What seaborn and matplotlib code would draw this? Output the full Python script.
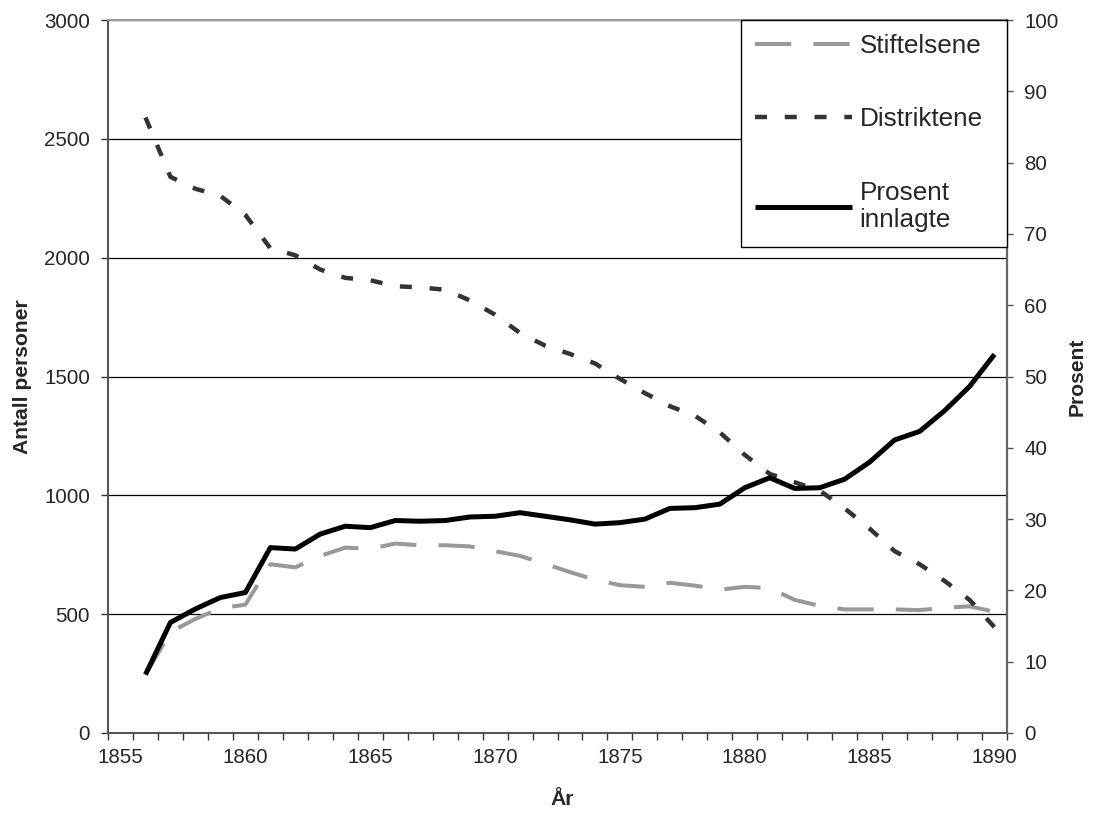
import matplotlib
matplotlib.use("Agg")
import matplotlib.pyplot as plt
import seaborn as sns
import numpy as np

# values, one per year 1856-1890
years = list(range(1856, 1891))
stiftelsene = [245, 425, 480, 525, 540, 710, 697, 745, 780, 775,
               797, 790, 790, 785, 765, 745, 712, 677, 645, 622,
               615, 632, 620, 603, 615, 610, 560, 535, 520, 520,
               520, 517, 527, 533, 510]
distriktene = [2590, 2340, 2290, 2260, 2180, 2040, 2010, 1950, 1915, 1905,
               1880, 1875, 1865, 1820, 1760, 1683, 1630, 1595, 1555, 1490,
               1430, 1375, 1335, 1265, 1170, 1090, 1055, 1020, 945, 860,
               765, 710, 640, 560, 445]
prosent = [8.2, 15.5, 17.4, 19.0, 19.7, 26.0, 25.8, 27.9, 29.0, 28.8,
           29.8, 29.7, 29.8, 30.3, 30.4, 30.9, 30.4, 29.9, 29.3, 29.5,
           30.0, 31.5, 31.6, 32.1, 34.4, 35.8, 34.3, 34.4, 35.6, 38.0,
           41.1, 42.3, 45.2, 48.6, 53.1]

left_ticks = [0, 500, 1000, 1500, 2000, 2500, 3000]
right_ticks = [0, 10, 20, 30, 40, 50, 60, 70, 80, 90, 100]
year_labels = [1855, 1860, 1865, 1870, 1875, 1880, 1885, 1890]

sns.set_style("white")
plt.rcParams["font.family"] = ["Liberation Sans", "DejaVu Sans"]

fig = plt.figure(figsize=(10.93, 8.14), dpi=100)
ax = fig.add_axes([108 / 1093, 1 - 733 / 814, 899 / 1093, 713 / 814])
ax2 = ax.twinx()

sns.lineplot(x=years, y=stiftelsene, ax=ax, color="#999999", lw=2.9,
             ls=(0, (9, 5.5)), label="Stiftelsene", legend=False)
sns.lineplot(x=years, y=distriktene, ax=ax, color="#333333", lw=3.2,
             ls=(0, (2.7, 4.0)), label="Distriktene", legend=False)
sns.lineplot(x=years, y=prosent, ax=ax2, color="black", lw=3.6,
             label="Prosent\ninnlagte", legend=False,
             solid_capstyle="butt")

ax.set_xlim(1854.5, 1890.5)
ax.set_ylim(0, 3000)
ax2.set_ylim(0, 100)
ax.set_yticks(left_ticks)
ax2.set_yticks(right_ticks)

ax.set_xticks(np.arange(1854.5, 1891, 1))
ax.set_xticklabels([])
ax.set_xticks(year_labels, minor=True)
ax.set_xticklabels(year_labels, minor=True)

ax.tick_params(axis="x", which="major", direction="out", length=5, width=1, color="#333333", bottom=True)
ax.tick_params(axis="x", which="minor", length=0, pad=11, labelsize=14.8, bottom=True)
ax.tick_params(axis="y", direction="out", length=5, width=1, color="#333333", pad=8, labelsize=14.8, left=True)
ax2.tick_params(axis="y", direction="out", length=4, width=1, color="#555555", pad=8.5, labelsize=14.8, right=True)

ax.yaxis.grid(True, color="black", lw=0.9)
ax.set_axisbelow(True)

for name, sp in ax.spines.items():
    sp.set_linewidth(1.5)
    sp.set_color("#555555")
ax.spines["top"].set_color("#999999")
for name, sp in ax2.spines.items():
    sp.set_visible(name == "right")
ax2.spines["right"].set_color("#666666")
ax2.spines["right"].set_linewidth(1.5)

ax.set_xlabel("År", fontsize=15.2, fontweight="bold")
ax.xaxis.set_label_coords(0.505, -0.08)
ax.set_ylabel("Antall personer", fontsize=15.2, fontweight="bold")
ax.yaxis.set_label_coords(-0.085, 0.5)
ax2.set_ylabel("Prosent", fontsize=15.2, fontweight="bold")
ax2.yaxis.set_label_coords(1.067, 0.5)

handles = ax.get_lines() + ax2.get_lines()
labels = [h.get_label() for h in handles]
leg = ax2.legend(handles, labels, loc="upper left", bbox_to_anchor=(0.704, 0, 0.296, 1.0),
                 mode="expand", borderaxespad=0, fontsize=18.8, borderpad=0.55,
                 labelspacing=1.88, handlelength=3.7, handletextpad=0.3,
                 fancybox=False, framealpha=1, edgecolor="black")
leg.get_frame().set_linewidth(1.0)

fig.savefig("out.png", dpi=100)
